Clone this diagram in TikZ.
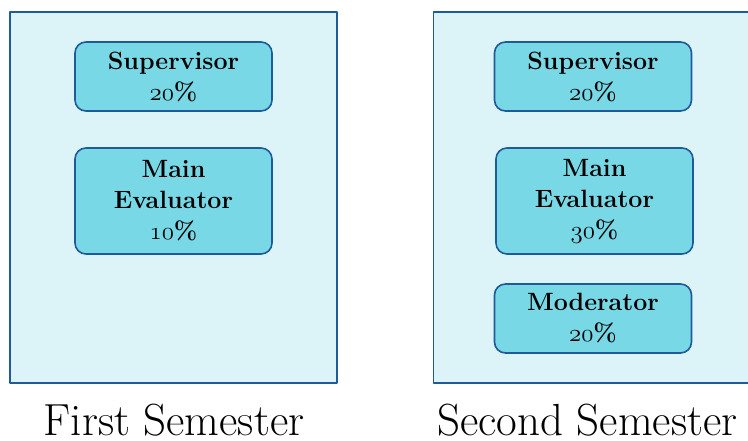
\documentclass[tikz,border=0pt]{standalone}
\definecolor{outerfill}{HTML}{DCF4F8}
\definecolor{innerfill}{HTML}{78D8E6}
\definecolor{edgeblue}{HTML}{1F5A9A}
\newcommand{\osnum}[1]{{\fontencoding{OML}\fontfamily{lmm}\fontseries{b}\fontshape{it}\selectfont #1}}
\begin{document}
\begin{tikzpicture}[x=1pt, y=-1pt, line join=round,
	semester/.style={draw=edgeblue, line width=1.6pt, fill=outerfill, minimum width=327pt, minimum height=371pt, inner sep=0pt},
	role/.style={draw=edgeblue, line width=1.6pt, fill=innerfill, rounded corners=11pt, minimum width=197pt, align=center, inner sep=0pt, font=\bfseries\fontsize{25}{31}\selectfont},
	caption/.style={font=\fontsize{45}{54}\selectfont, inner sep=0pt, text depth=0pt}]
	\useasboundingbox (0,0) rectangle (748,440);
	\node[semester] (first) at (173.5,197.5) {};
	\node[semester] (second) at (597,197.5) {};
	\node[role, minimum height=69pt] (supA) at (173.5,76.5) {Supervisor\\\osnum{20}\%};
	\node[role, minimum height=106pt] (evalA) at (173.5,201) {Main\\Evaluator\\\osnum{10}\%};
	\node[role, minimum height=69pt] (supB) at (593,76.5) {Supervisor\\\osnum{20}\%};
	\node[role, minimum height=106pt] (evalB) at (594.5,201) {Main\\Evaluator\\\osnum{30}\%};
	\node[role, minimum height=69pt] (mod) at (593,318.5) {Moderator\\\osnum{20}\%};
	\node[caption, anchor=base] (firstlbl) at (174,435) {First Semester};
	\node[caption, anchor=base west] (secondlbl) at (437,435) {Second Semester};
\end{tikzpicture}
\end{document}
